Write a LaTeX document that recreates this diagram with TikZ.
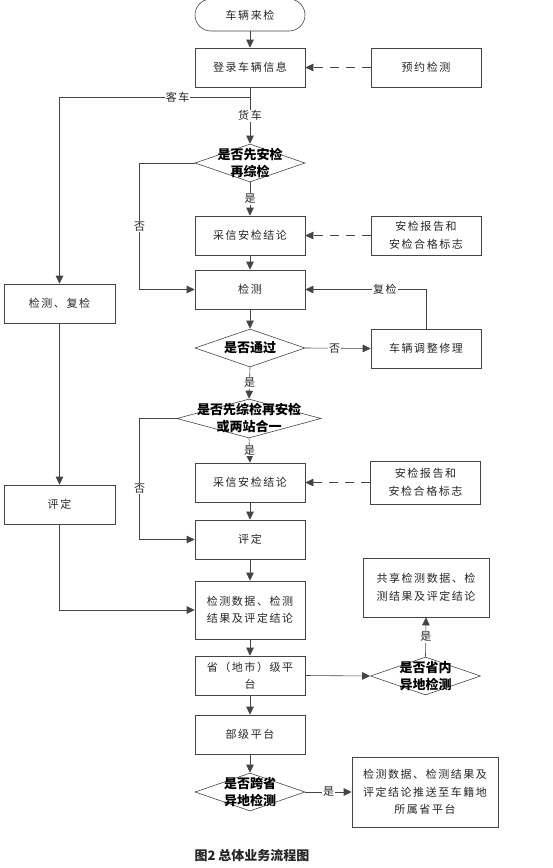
\documentclass[tikz,border=0pt]{standalone}
\usepackage{fontspec}
\usepackage{xcolor}
\usetikzlibrary{shapes.geometric,arrows.meta}
\setmainfont{Noto Sans CJK SC}[LetterSpace=14]
\newfontfamily\askfont{Noto Sans CJK SC}
\definecolor{linegray}{HTML}{454545}
\definecolor{textgray}{HTML}{262626}
\tikzset{
  box/.style={draw=linegray, semithick, minimum width=110pt, minimum height=39pt,
    inner sep=2pt, align=center, text=textgray,
    font=\fontsize{11}{17.5}\selectfont},
  ask/.style={diamond, draw=linegray, semithick, minimum width=110pt, minimum height=38pt,
    inner sep=0pt},
  asktext/.style={align=center, text=black, font=\askfont\bfseries\fontsize{13}{17}\selectfont},
  tag/.style={fill=white, inner sep=1pt, text=textgray,
    font=\fontsize{11}{13}\selectfont},
  flow/.style={draw=linegray, semithick, -{Triangle[length=8pt,width=7.5pt]}},
  hint/.style={flow, dash pattern=on 9pt off 7pt}
}
\begin{document}
\begin{tikzpicture}[x=1pt,y=-1pt]
    \useasboundingbox (0,0) rectangle (552,868);
    \node[box, rounded corners=16pt, minimum height=32pt] (start) at (250,15) {车辆来检};
    \node[box] (reg) at (250,67.5) {登录车辆信息};
    \node[box] (book) at (426,67.5) {预约检测};
    \node[ask, label={[asktext]center:{是否先安检\\再综检}}] (q1) at (250,163) {};
    \node[box] (adopt1) at (250,235.5) {采信安检结论};
    \node[box] (report1) at (426,235.5) {安检报告和\\安检合格标志};
    \node[box] (test) at (250,289.5) {检测};
    \node[box, minimum width=111pt] (retest) at (59.5,303.5) {检测、复检};
    \node[ask, label={[asktext]center:{是否通过}}] (q2) at (250,348) {};
    \node[box] (repair) at (426,348.5) {车辆调整修理};
    \node[ask, minimum width=144pt, minimum height=39pt,
      label={[asktext]center:{是否先综检再安检\\或两站合一}}] (q3) at (249,418.5) {};
    \node[box] (adopt2) at (250,482.5) {采信安检结论};
    \node[box, minimum height=43pt] (report2) at (425.5,482.5) {安检报告和\\安检合格标志};
    \node[box] (rate) at (250,539.5) {评定};
    \node[box, minimum width=111pt] (rateleft) at (59.5,504.5) {评定};
    \node[box, minimum height=58pt] (data) at (250,610) {检测数据、检测\\结果及评定结论};
    \node[box, minimum width=126pt, minimum height=59pt] (share) at (426,587.5) {共享检测数据、检\\测结果及评定结论};
    \node[box] (prov) at (250,675.5) {省（地市）级平\\台};
    \node[ask, label={[asktext]center:{是否省内\\异地检测}}] (q4) at (425.5,676) {};
    \node[box] (nat) at (250,734.5) {部级平台};
    \node[ask, label={[asktext]center:{是否跨省\\异地检测}}] (q5) at (250,792) {};
    \node[box, minimum width=146pt, minimum height=70pt] (push) at (425,792) {检测数据、检测结果及\\评定结论推送至车籍地\\所属省平台};
    \node[font=\askfont\bfseries\fontsize{13}{15}\selectfont, text=textgray] (title) at (252,856) {图2\ 总体业务流程图};
    \coordinate (fork) at (250,97);
    \foreach \a/\b in {start/reg,adopt1/test,test/q2,adopt2/rate,rate/data,data/prov,prov/nat,nat/q5,retest/rateleft}
    \draw[flow] (\a) -- (\b);
    \draw[draw=linegray, semithick] (reg) -- (fork);
    \draw[flow] (fork) -| node[tag, pos=0.19] {客车} (retest.north);
    \draw[flow] (fork) -- node[tag, pos=0.4] {货车} (q1.north);
    \draw[flow] (q1.south) -- node[tag] {是} (adopt1.north);
    \draw[flow] (q1.west) -- ++(-55,0) |- node[tag, pos=0.25] {否} (test.west);
    \draw[flow] (q2.east) -- node[tag, pos=0.45] {否} (repair.west);
    \draw[flow] (repair.north) |- node[tag, pos=0.67] {复检} (test.east);
    \draw[flow] (q2.south) -- node[tag] {是} (q3.north);
    \draw[flow] (q3.south) -- node[tag] {是} (adopt2.north);
    \draw[flow] (q3.west) -- ++(-37,0) |- node[tag, pos=0.29] {否} (rate.west);
    \draw[flow] (rateleft.south) |- (data.west);
    \draw[flow] (prov.east) -- (q4.west);
    \draw[flow] (q4.north) -- node[tag] {是} (share.south);
    \draw[flow] (q5.east) -- node[tag] {是} (push.west);
    \draw[hint] (book.west) -- (reg.east);
    \draw[hint] (report1.west) -- (adopt1.east);
    \draw[hint] (report2.west) -- (adopt2.east);
  \end{tikzpicture}
\end{document}
